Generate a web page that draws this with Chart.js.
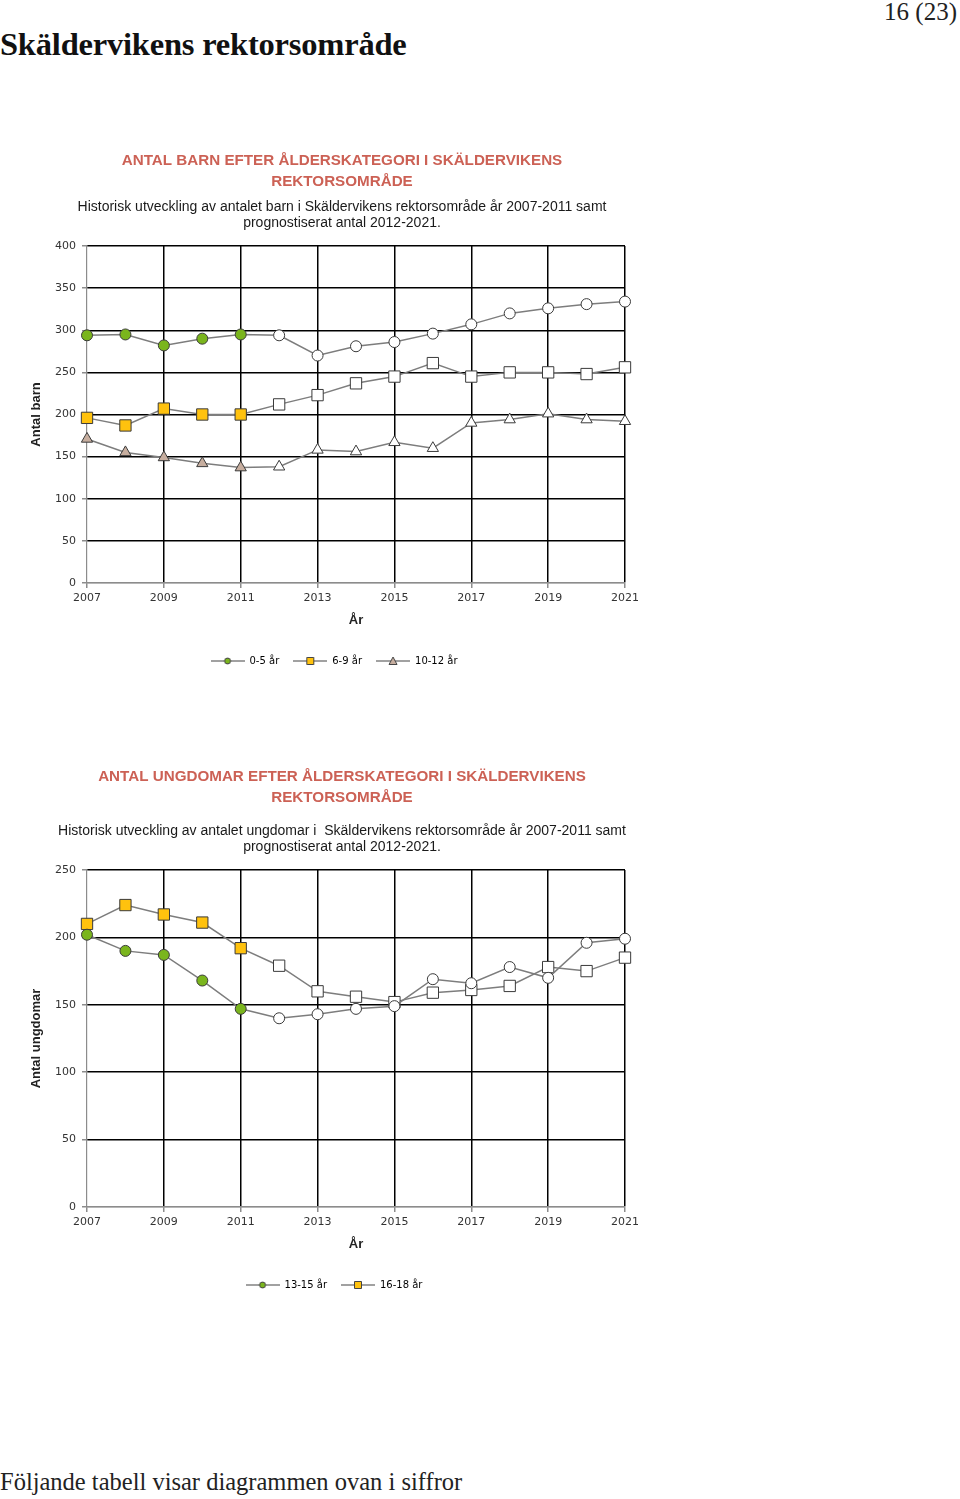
<!DOCTYPE html>
<html lang="sv">
<head>
<meta charset="utf-8">
<title>Skäldervikens rektorsområde</title>
<script src="https://cdn.jsdelivr.net/npm/chart.js@4.4.1/dist/chart.umd.min.js"></script>
<style>
  html, body { margin: 0; padding: 0; background: #fff; }
  body { position: relative; width: 960px; height: 1499px; overflow: hidden; }
  .page-no { position: absolute; right: 3px; top: -2px; font: 25px "Liberation Serif", serif; color: #222; }
  h1 { position: absolute; left: 0; top: 26px; margin: 0; font: bold 32.5px "Liberation Serif", serif; color: #111; letter-spacing: -0.2px; }
  .foot { position: absolute; left: 0; top: 1468px; margin: 0; font: 24.5px "Liberation Serif", serif; color: #222; }
  .box { position: absolute; left: 0; width: 660px; }
  #box1 { top: 140px; height: 541px; }
  #box2 { top: 756px; height: 549px; }
</style>
</head>
<body>
<div class="page-no">16 (23)</div>
<h1>Skäldervikens rektorsområde</h1>

<div class="box" id="box1"><canvas id="barnChart"></canvas></div>
<div class="box" id="box2"><canvas id="ungdomChart"></canvas></div>

<p class="foot">Följande tabell visar diagrammen ovan i siffror</p>

<script>
// years on the x axis, 2007-2011 are historical, the rest is prognosis
const years = ['2007', '2008', '2009', '2010', '2011', '2012', '2013', '2014',
               '2015', '2016', '2017', '2018', '2019', '2020', '2021'];
const lastHistoricalYear = '2011';

// Antal barn
const barn0to5 = [294, 295, 282, 290, 295, 294, 270, 281, 286, 296, 307, 320, 326, 331, 334];
const barn6to9 = [196, 187, 207, 200, 200, 212, 223, 237, 245, 261, 245, 250, 250, 248, 256];
const barn10to12 = [171, 155, 149, 142, 137, 138, 158, 156, 167, 160, 190, 194, 201, 194, 192];
const barnTicks = { max: 400, step: 50 };

// Antal ungdomar
const ungd13to15 = [202, 190, 187, 168, 147, 140, 143, 147, 149, 169, 166, 178, 170, 196, 199];
const ungd16to18 = [210, 224, 217, 211, 192, 179, 160, 156, 152, 159, 161, 164, 178, 175, 185];
const ungdTicks = { max: 250, step: 50 };

const GREEN = '#7ab51d';
const YELLOW = '#ffc20e';
const TAN = '#c7ae9f';
const TITLE_RED = '#cc6155';
const AXIS_GRAY = '#8c8c8c';
const histIndex = years.indexOf(lastHistoricalYear);

function legendIcon(style, fill) {
  const c = document.createElement('canvas');
  c.width = 34; c.height = 10;
  const g = c.getContext('2d');
  g.strokeStyle = '#444';
  g.lineWidth = 1.2;
  g.beginPath(); g.moveTo(0, 5); g.lineTo(34, 5); g.stroke();
  g.fillStyle = fill;
  g.lineWidth = 1;
  g.beginPath();
  if (style === 'circle') g.arc(17, 5, 3, 0, Math.PI * 2);
  else if (style === 'rect') g.rect(13.5, 1.5, 7, 7);
  else { g.moveTo(17, 1); g.lineTo(21, 8.5); g.lineTo(13, 8.5); g.closePath(); }
  g.fill(); g.stroke();
  return c;
}

function series(label, values, style, color, radius) {
  return {
    label: label,
    data: values,
    borderColor: '#7d7d7d',
    borderWidth: 1.5,
    pointStyle: style,
    pointRadius: radius,
    pointHoverRadius: radius,
    pointBorderColor: '#3a3a3a',
    pointBorderWidth: 1,
    pointBackgroundColor: ctx => ctx.dataIndex <= histIndex ? color : '#ffffff',
    tension: 0,
    legendIcon: legendIcon(style, color)
  };
}

// move the title, subtitle and legend to the same centre as in the original
const centerBoxes = {
  id: 'centerBoxes',
  afterLayout(chart, args, opts) {
    chart.boxes.forEach(b => {
      if (b instanceof Chart.Scale) return;
      const target = b.position === 'top' ? opts.titleCenter : opts.legendCenter;
      const shift = target - (b.left + b.right) / 2;
      b.left += shift; b.right += shift;
    });
  }
};

function makeChart(id, cfg) {
  const tickFont = { family: 'DejaVu Sans', size: 11 };
  return new Chart(document.getElementById(id), {
    type: 'line',
    data: { labels: years, datasets: cfg.datasets },
    plugins: [centerBoxes],
    options: {
      responsive: true,
      maintainAspectRatio: false,
      animation: false,
      layout: { padding: { left: 25, right: 35, top: 0, bottom: 5 } },
      plugins: {
        centerBoxes: { titleCenter: 342, legendCenter: 334 },
        title: {
          display: true,
          text: cfg.title,
          color: TITLE_RED,
          font: { family: 'Liberation Sans', size: 15.2, weight: 'bold', lineHeight: 21 / 15.2 },
          padding: { top: 10, bottom: cfg.titleGap }
        },
        subtitle: {
          display: true,
          text: cfg.subtitle,
          color: '#1a1a1a',
          font: { family: 'Liberation Sans', size: 14, lineHeight: 16 / 14 },
          padding: { top: 0, bottom: 15 }
        },
        legend: {
          position: 'bottom',
          labels: {
            usePointStyle: true,
            pointStyleWidth: 34,
            padding: 14,
            color: '#222',
            font: { family: 'DejaVu Sans', size: 10 },
            generateLabels: chart => chart.data.datasets.map((ds, i) => ({
              text: ds.label,
              pointStyle: ds.legendIcon,
              fillStyle: '#fff',
              strokeStyle: '#444',
              lineWidth: 0,
              datasetIndex: i,
              hidden: false
            }))
          }
        },
        tooltip: { enabled: false }
      },
      scales: {
        x: {
          afterFit: s => { s.height = 59; },
          border: { color: AXIS_GRAY, width: 1.2 },
          grid: {
            color: ctx => (ctx.index > 0 && ctx.index % 2 === 0) ? '#000' : 'transparent',
            tickColor: ctx => ctx.index % 2 === 0 ? AXIS_GRAY : 'transparent',
            lineWidth: 1.5,
            tickLength: 5
          },
          ticks: {
            autoSkip: false,
            maxRotation: 0,
            padding: 4,
            color: '#333',
            font: tickFont,
            callback: (v, i) => i % 2 === 0 ? years[i] : ''
          },
          title: {
            display: true,
            text: 'År',
            color: '#222',
            font: { family: 'Liberation Sans', size: 13, weight: 'bold' },
            padding: { top: 4, bottom: 14 }
          }
        },
        y: {
          min: 0,
          max: cfg.ticks.max,
          afterFit: s => { s.width = 62; },
          border: { color: AXIS_GRAY, width: 1.2 },
          grid: {
            color: ctx => ctx.tick.value === 0 ? AXIS_GRAY : '#000',
            tickColor: AXIS_GRAY,
            lineWidth: 1.5,
            tickLength: 5
          },
          ticks: { stepSize: cfg.ticks.step, padding: 6, color: '#333', font: tickFont },
          title: {
            display: true,
            text: cfg.yTitle,
            color: '#222',
            font: { family: 'Liberation Sans', size: 13, weight: 'bold' },
            padding: { top: 4, bottom: 4 }
          }
        }
      }
    }
  });
}

makeChart('barnChart', {
  title: ['ANTAL BARN EFTER ÅLDERSKATEGORI I SKÄLDERVIKENS', 'REKTORSOMRÅDE'],
  subtitle: ['Historisk utveckling av antalet barn i Skäldervikens rektorsområde år 2007-2011 samt',
             'prognostiserat antal 2012-2021.'],
  titleGap: 7,
  yTitle: 'Antal barn',
  ticks: barnTicks,
  datasets: [
    series('0-5 år', barn0to5, 'circle', GREEN, 5.5),
    series('6-9 år', barn6to9, 'rect', YELLOW, 8),
    series('10-12 år', barn10to12, 'triangle', TAN, 6.5)
  ]
});

makeChart('ungdomChart', {
  title: ['ANTAL UNGDOMAR EFTER ÅLDERSKATEGORI I SKÄLDERVIKENS', 'REKTORSOMRÅDE'],
  subtitle: ['Historisk utveckling av antalet ungdomar i  Skäldervikens rektorsområde år 2007-2011 samt',
             'prognostiserat antal 2012-2021.'],
  titleGap: 15,
  yTitle: 'Antal ungdomar',
  ticks: ungdTicks,
  datasets: [
    series('13-15 år', ungd13to15, 'circle', GREEN, 5.5),
    series('16-18 år', ungd16to18, 'rect', YELLOW, 8)
  ]
});
</script>
</body>
</html>
